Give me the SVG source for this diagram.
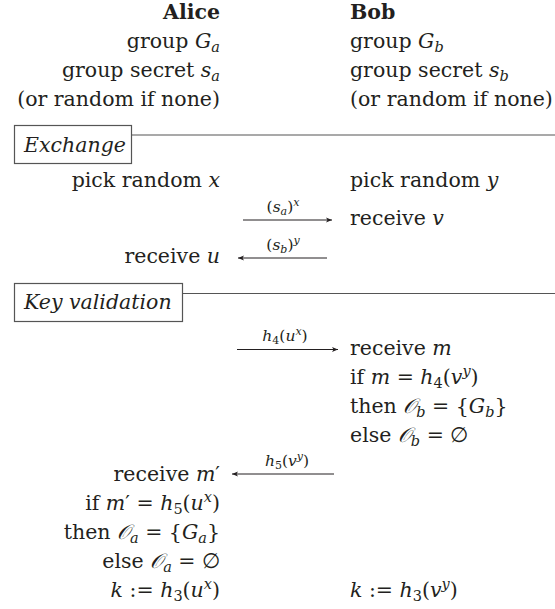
<svg xmlns="http://www.w3.org/2000/svg" width="555" height="609" viewBox="0 0 555 609">
<style>
.t{font-family:"DejaVu Serif","Liberation Serif",serif;font-size:20.5px;fill:#231f20}
.e{text-anchor:end}
.m{text-anchor:middle}
.i{font-style:italic}
.b{font-weight:bold}
.s{font-size:14.5px}
.l{font-size:15.5px}
.ls{font-size:11px}
.cal{font-family:"DejaVu Serif","DejaVu Sans",serif;font-style:italic}
.box{fill:#fff;stroke:#555;stroke-width:1.2}
.rule{stroke:#555;stroke-width:1.2;fill:none}
.arr{stroke:#231f20;stroke-width:1;fill:none;marker-end:url(#ah)}
</style>
<defs>
<marker id="ah" markerUnits="userSpaceOnUse" markerWidth="8" markerHeight="6" refX="6" refY="3" orient="auto" overflow="visible">
<path d="M0,0.6 L6,3 L0,5.4 L1.5,3 z" fill="#231f20"/>
</marker>
</defs>

<g id="alice" class="t">
<text x="220" y="18.5" class="t e b">Alice</text>
<text x="220" y="47.5" class="t e">group <tspan class="i">G</tspan><tspan class="i s" dy="4">a</tspan></text>
<text x="220" y="77" class="t e">group secret <tspan class="i">s</tspan><tspan class="i s" dy="4">a</tspan></text>
<text x="220" y="106" class="t e">(or random if none)</text>
<text x="220" y="187" class="t e">pick random <tspan class="i">x</tspan></text>
<text x="220" y="263" class="t e">receive <tspan class="i">u</tspan></text>
<text x="220" y="481" class="t e">receive <tspan class="i">m</tspan>′</text>
<text x="220" y="509.5" class="t e">if <tspan class="i">m</tspan>′ = <tspan class="i">h</tspan><tspan class="s" dy="4">5</tspan><tspan dy="-4">(</tspan><tspan class="i">u</tspan><tspan class="i s" dy="-8">x</tspan><tspan dy="8">)</tspan></text>
<text x="220" y="538.5" class="t e">then <tspan class="cal">𝒪</tspan><tspan class="i s" dy="4">a</tspan><tspan dy="-4"> = {</tspan><tspan class="i">G</tspan><tspan class="i s" dy="4">a</tspan><tspan dy="-4">}</tspan></text>
<text x="220" y="567.5" class="t e">else <tspan class="cal">𝒪</tspan><tspan class="i s" dy="4">a</tspan><tspan dy="-4"> = ∅</tspan></text>
<text x="220" y="597" class="t e"><tspan class="i">k</tspan> := <tspan class="i">h</tspan><tspan class="s" dy="4">3</tspan><tspan dy="-4">(</tspan><tspan class="i">u</tspan><tspan class="i s" dy="-8">x</tspan><tspan dy="8">)</tspan></text>
</g>

<g id="bob" class="t">
<text x="350" y="18.5" class="t b">Bob</text>
<text x="350" y="47.5" class="t">group <tspan class="i">G</tspan><tspan class="i s" dy="4">b</tspan></text>
<text x="350" y="77" class="t">group secret <tspan class="i">s</tspan><tspan class="i s" dy="4">b</tspan></text>
<text x="350" y="106" class="t">(or random if none)</text>
<text x="350" y="187" class="t">pick random <tspan class="i">y</tspan></text>
<text x="350" y="225" class="t">receive <tspan class="i">v</tspan></text>
<text x="350" y="355" class="t">receive <tspan class="i">m</tspan></text>
<text x="350" y="384" class="t">if <tspan class="i">m</tspan> = <tspan class="i">h</tspan><tspan class="s" dy="4">4</tspan><tspan dy="-4">(</tspan><tspan class="i">v</tspan><tspan class="i s" dy="-8">y</tspan><tspan dy="8">)</tspan></text>
<text x="350" y="413" class="t">then <tspan class="cal">𝒪</tspan><tspan class="i s" dy="4">b</tspan><tspan dy="-4"> = {</tspan><tspan class="i">G</tspan><tspan class="i s" dy="4">b</tspan><tspan dy="-4">}</tspan></text>
<text x="350" y="442" class="t">else <tspan class="cal">𝒪</tspan><tspan class="i s" dy="4">b</tspan><tspan dy="-4"> = ∅</tspan></text>
<text x="350" y="597" class="t"><tspan class="i">k</tspan> := <tspan class="i">h</tspan><tspan class="s" dy="4">3</tspan><tspan dy="-4">(</tspan><tspan class="i">v</tspan><tspan class="i s" dy="-8">y</tspan><tspan dy="8">)</tspan></text>
</g>

<g id="exchange">
<line class="rule" x1="131.5" y1="135" x2="555" y2="135"/>
<rect class="box" x="14.5" y="125.5" width="117" height="38"/>
<text x="24" y="151.5" class="t i">Exchange</text>
</g>

<g id="key-validation">
<line class="rule" x1="182.5" y1="293.5" x2="555" y2="293.5"/>
<rect class="box" x="14.5" y="283.5" width="168" height="38"/>
<text x="24" y="308.5" class="t i">Key validation</text>
</g>

<g id="connectors">
<line class="arr" x1="243" y1="220" x2="332" y2="220"/>
<text x="283" y="212" class="t m l">(<tspan class="i">s</tspan><tspan class="i ls" dy="3">a</tspan><tspan dy="-3">)</tspan><tspan class="i ls" dy="-6">x</tspan></text>
<line class="arr" x1="327" y1="258" x2="238" y2="258"/>
<text x="283" y="250" class="t m l">(<tspan class="i">s</tspan><tspan class="i ls" dy="3">b</tspan><tspan dy="-3">)</tspan><tspan class="i ls" dy="-6">y</tspan></text>
<line class="arr" x1="237" y1="349.5" x2="338" y2="349.5"/>
<text x="285" y="341" class="t m l"><tspan class="i">h</tspan><tspan class="ls" dy="3">4</tspan><tspan dy="-3">(</tspan><tspan class="i">u</tspan><tspan class="i ls" dy="-6">x</tspan><tspan dy="6">)</tspan></text>
<line class="arr" x1="334" y1="474" x2="232" y2="474"/>
<text x="287" y="466" class="t m l"><tspan class="i">h</tspan><tspan class="ls" dy="3">5</tspan><tspan dy="-3">(</tspan><tspan class="i">v</tspan><tspan class="i ls" dy="-6">y</tspan><tspan dy="6">)</tspan></text>
</g>
</svg>
